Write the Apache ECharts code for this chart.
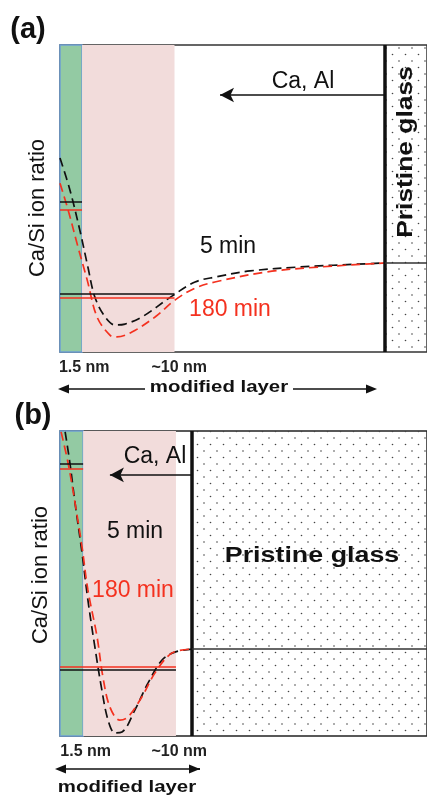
<!DOCTYPE html>
<html><head><meta charset="utf-8">
<script src="https://cdn.jsdelivr.net/npm/echarts@6/dist/echarts.min.js"></script>
<style>html,body{margin:0;padding:0;background:#fff}#c{width:427px;height:797px}</style>
</head><body><div id="c"></div>
<script>
// ---- Panel (a): schematic depth (0-100) vs Ca/Si ratio (0-100)
const depthA5    = [0, 2.7, 5.4, 7.6, 9.5, 12.3, 15.0, 17.7, 22.3, 30.5, 36.8, 42.2, 51.8, 65.4, 88.6];
const ratioA5    = [63.2, 52.8, 39.7, 27.7, 17.9, 11.4, 8.8, 9.1, 11.4, 18.2, 22.8, 24.4, 26.4, 27.7, 29.0];
const depthA180  = [0, 2.2, 4.9, 7.4, 10.1, 13.6, 15.5, 19.6, 25.9, 31.3, 36.8, 42.2, 56.4, 70.8, 88.6];
const ratioA180  = [55.0, 46.3, 34.2, 23.5, 11.4, 5.5, 4.9, 6.5, 11.4, 16.9, 20.8, 22.8, 26.1, 27.7, 29.0];
const surfLevelA  = [48.9, 46.3];   // 5 min, 180 min (within 1.5 nm)
const layerLevelA = [18.9, 17.6];   // 5 min, 180 min (within ~10 nm)
const bulkLevelA  = 29.0;
const zonesA      = [0, 6.0, 31.2, 88.6, 100];
const arrowA      = [88.6, 43.6, 83.7]; // from, to, level

// ---- Panel (b)
const depthB5    = [1.4, 2.7, 4.1, 6.0, 7.6, 9.5, 11.4, 13.1, 15.0, 16.9, 20.4, 24.0, 27.8, 31.3, 36.0];
const ratioB5    = [99.7, 89.5, 76.4, 60.0, 44.6, 29.2, 15.1, 5.2, 1.0, 1.3, 8.5, 17.4, 24.9, 27.5, 28.5];
const depthB180  = [0.3, 2.2, 4.1, 6.0, 7.6, 10.1, 11.7, 13.6, 16.3, 18.5, 22.3, 25.9, 30.5, 36.0];
const ratioB180  = [99.7, 89.5, 76.4, 62.0, 47.9, 32.5, 19.3, 9.5, 5.2, 6.2, 12.8, 20.7, 27.2, 28.5];
const surfLevelB  = [89.2, 87.5];
const layerLevelB = [21.6, 22.6];
const bulkLevelB  = 28.5;
const zonesB      = [0, 6.3, 31.6, 36.0, 100];
const arrowB      = [36.0, 13.6, 85.6];

const tickValuesA = [6.6, 32.5];
const tickValuesB = [7.0, 32.5];
const tickLabels  = ['1.5 nm', '~10 nm'];

const FONT = '"Liberation Sans", Arial, sans-serif';
const GREEN = '#93caa3', PINK = '#f2dcdb', BLUE = '#6d9fd3', RED = '#f4311f', BLACK = '#111';

const dotCanvas = document.createElement('canvas');
dotCanvas.width = 13; dotCanvas.height = 13;
(function(){const g = dotCanvas.getContext('2d'); g.fillStyle = '#444';
  g.beginPath(); g.arc(2.5, 2.5, 0.8, 0, Math.PI*2); g.fill();
  g.beginPath(); g.arc(9, 9, 0.8, 0, Math.PI*2); g.fill();})();
const dotPattern = {image: dotCanvas, repeat: 'repeat'};

const zip = (xs, ys) => xs.map((x, i) => [x, ys[i]]);

function panelSeries(idx, zones, d5, r5, d180, r180, surf, layer, bulk, arrow) {
  const common = {xAxisIndex: idx, yAxisIndex: idx};
  const hseg = (x0, x1, y, color) => [{coord: [x0, y], lineStyle: {color, width: 1.5, type: 'solid'}}, {coord: [x1, y]}];
  return [
    Object.assign({}, common, {
      type: 'line', data: [], silent: true, z: 1,
      markArea: {silent: true, data: [
        [{xAxis: zones[0], itemStyle: {color: GREEN, borderColor: BLUE, borderWidth: 1.5}}, {xAxis: zones[1]}],
        [{xAxis: zones[1], itemStyle: {color: PINK}}, {xAxis: zones[2]}],
        [{xAxis: zones[3], itemStyle: {color: dotPattern}}, {xAxis: zones[4]}]
      ]},
      markLine: {silent: true, symbol: 'none', label: {show: false}, animation: false, data: [
        [{coord: [zones[3], 0], lineStyle: {color: BLACK, width: 3.5, type: 'solid'}}, {coord: [zones[3], 100]}],
        [{coord: [zones[3], bulk], lineStyle: {color: '#333', width: 1.5, type: 'solid'}}, {coord: [zones[4], bulk]}],
        [{coord: [arrow[0], arrow[2]], symbol: 'none', lineStyle: {color: BLACK, width: 1.5, type: 'solid'}},
         {coord: [arrow[1], arrow[2]], symbol: 'arrow', symbolSize: [11, 14]}]
      ]}
    }),
    Object.assign({}, common, {
      name: '5 min', type: 'line', smooth: 0.35, showSymbol: false, z: 3,
      data: zip(d5, r5), lineStyle: {color: BLACK, width: 1.7, type: [9, 5]},
      markLine: {silent: true, symbol: 'none', label: {show: false}, animation: false,
        data: [hseg(zones[0], zones[1], surf[0], BLACK), hseg(zones[0], zones[2], layer[0], BLACK)]}
    }),
    Object.assign({}, common, {
      name: '180 min', type: 'line', smooth: 0.35, showSymbol: false, z: 4,
      data: zip(d180, r180), lineStyle: {color: RED, width: 1.7, type: [9, 5]},
      markLine: {silent: true, symbol: 'none', label: {show: false}, animation: false,
        data: [hseg(zones[0], zones[1], surf[1], RED), hseg(zones[0], zones[2], layer[1], RED)]}
    })
  ];
}

function xAxisFor(idx, ticks) {
  return {gridIndex: idx, type: 'value', min: 0, max: 100,
    axisLine: {show: false}, axisTick: {show: false}, splitLine: {show: false},
    axisLabel: {customValues: ticks, margin: 8, fontFamily: FONT, fontWeight: 'bold', fontSize: 16, color: '#222',
      formatter: v => { const i = ticks.findIndex(t => Math.abs(t - v) < 1e-6); return i >= 0 ? tickLabels[i] : ''; }}};
}
function yAxisFor(idx) {
  return {gridIndex: idx, type: 'value', min: 0, max: 100, show: false};
}

function txt(x, y, text, size, opts) {
  opts = opts || {};
  return {type: 'text', x, y, rotation: opts.rot || 0, scaleX: opts.sx || 1, z: 100,
    style: {text, fill: opts.color || BLACK, font: (opts.bold ? 'bold ' : '') + size + 'px ' + FONT,
      align: 'center', verticalAlign: 'middle'}};
}
function hArrow(x0, x1, y, gapL, gapR) {
  const els = [
    {type: 'line', shape: {x1: x0 + 6, y1: y, x2: gapL, y2: y}, style: {stroke: BLACK, lineWidth: 1.5}},
    {type: 'line', shape: {x1: gapR, y1: y, x2: x1 - 6, y2: y}, style: {stroke: BLACK, lineWidth: 1.5}},
    {type: 'polygon', shape: {points: [[x0, y], [x0 + 11, y - 4.5], [x0 + 11, y + 4.5]]}, style: {fill: BLACK}},
    {type: 'polygon', shape: {points: [[x1, y], [x1 - 11, y - 4.5], [x1 - 11, y + 4.5]]}, style: {fill: BLACK}}
  ];
  return els;
}

const option = {
  animation: false,
  backgroundColor: '#fff',
  grid: [
    {left: 60, right: 0, top: 45, height: 307, show: true, borderColor: '#333', borderWidth: 1.5},
    {left: 60, right: 0, top: 431, height: 305, show: true, borderColor: '#222', borderWidth: 1.5}
  ],
  xAxis: [xAxisFor(0, tickValuesA), xAxisFor(1, tickValuesB)],
  yAxis: [yAxisFor(0), yAxisFor(1)],
  series: [].concat(
    panelSeries(0, zonesA, depthA5, ratioA5, depthA180, ratioA180, surfLevelA, layerLevelA, bulkLevelA, arrowA),
    panelSeries(1, zonesB, depthB5, ratioB5, depthB180, ratioB180, surfLevelB, layerLevelB, bulkLevelB, arrowB)
  ),
  graphic: [].concat([
    txt(28, 30, '(a)', 29, {bold: true}),
    txt(303, 82, 'Ca, Al', 23),
    txt(228, 247, '5 min', 23),
    txt(230, 310, '180 min', 23, {color: RED}),
    txt(406, 152, 'Pristine glass', 22, {bold: true, rot: Math.PI / 2, sx: 1.2}),
    txt(38, 208, 'Ca/Si ion ratio', 22, {rot: Math.PI / 2}),
    txt(219, 387, 'modified layer', 17, {bold: true, sx: 1.2}),
    txt(33, 416, '(b)', 29, {bold: true}),
    txt(155, 457, 'Ca, Al', 23),
    txt(135, 532, '5 min', 23),
    txt(133, 591, '180 min', 23, {color: RED}),
    txt(312, 556, 'Pristine glass', 22, {bold: true, sx: 1.22}),
    txt(41, 575, 'Ca/Si ion ratio', 22, {rot: Math.PI / 2}),
    txt(127, 787, 'modified layer', 17, {bold: true, sx: 1.2})
  ], hArrow(58, 377, 389, 145, 293), hArrow(55, 200, 769, 200, 200))
};

const chart = echarts.init(document.getElementById('c'), null, {renderer: 'canvas'});
chart.setOption(option);
</script>
</body></html>
